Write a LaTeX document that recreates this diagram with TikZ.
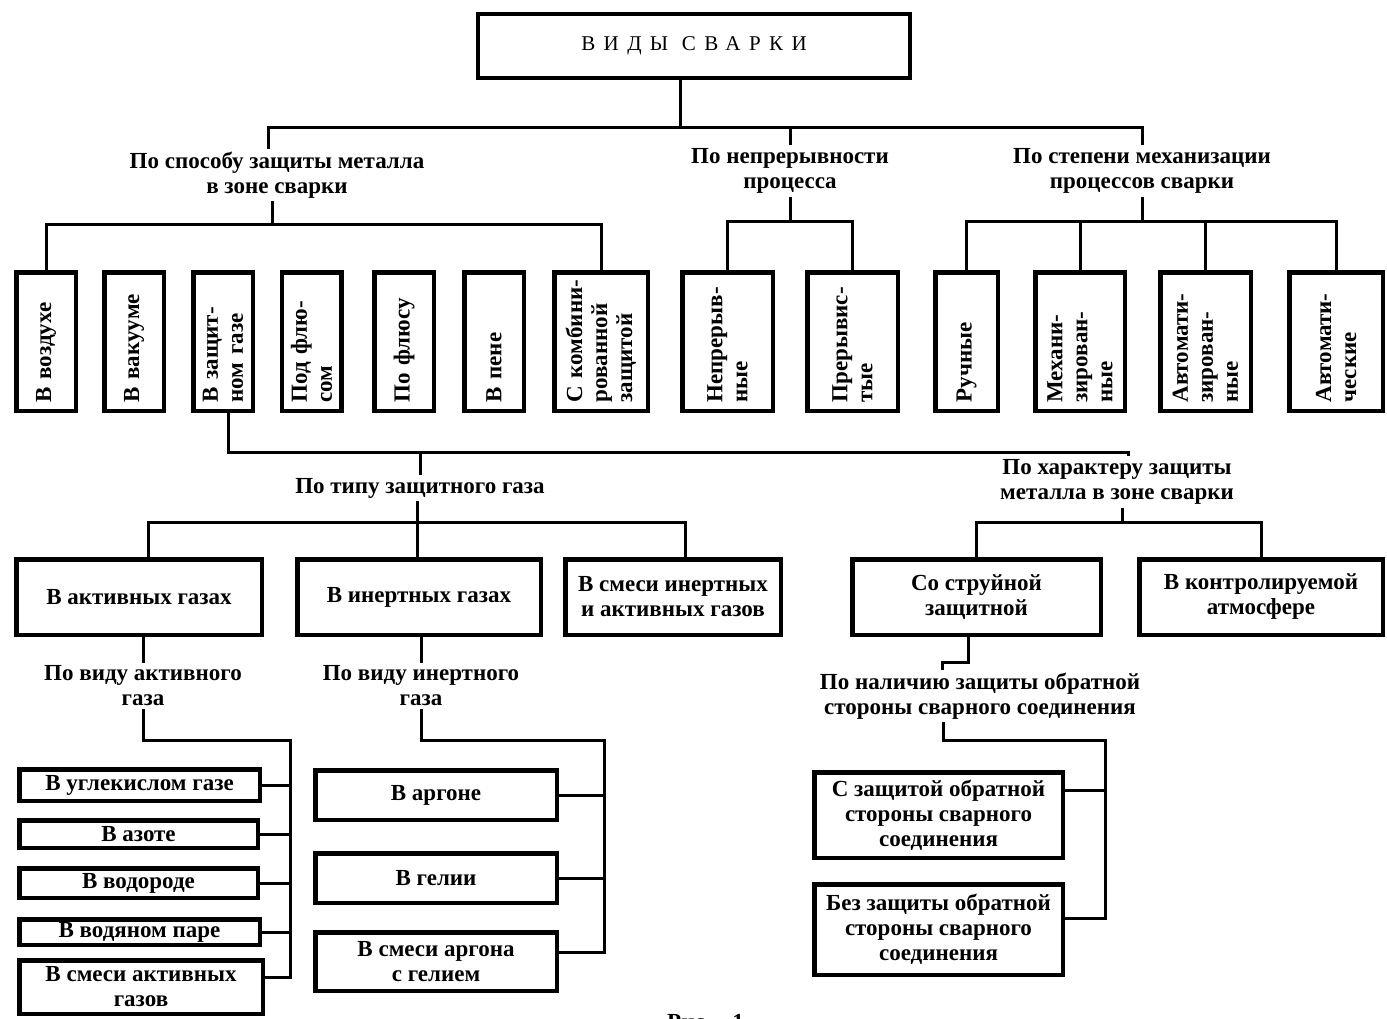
\documentclass[tikz,border=0pt]{standalone}
\usepackage{fontspec}
\setmainfont{Liberation Serif}
\newcommand\lblfont{\fontsize{23}{25}\selectfont\bfseries}
\newcommand\ttlfont{\fontsize{21}{24}\selectfont\addfontfeature{LetterSpace=40}}
\begin{document}
\begin{tikzpicture}[x=1pt,y=-1pt,
  box/.style={draw, line width=4.5pt, inner sep=2pt, font=\lblfont, align=center},
  vbox/.style={box, rotate=90, align=left, minimum width=138.5pt, text width=122pt},
  sbox/.style={box, inner sep=1pt},
  conn/.style={line width=3pt},
  lbl/.style={font=\lblfont, align=center, inner sep=3pt}]
\useasboundingbox (0,0) rectangle (1387,1019);

% title
\node[box, line width=4pt, minimum width=432pt, minimum height=64pt, font=\ttlfont] (title) at (694,46) {ВИДЫ СВАРКИ};

% level 1 labels
\node[lbl] (lA) at (277,175) {По способу защиты металла\\в зоне сварки};
\node[lbl] (lB) at (790,171) {По непрерывности\\процесса};
\node[lbl] (lC) at (1142,171) {По степени механизации\\процессов сварки};

% row 1 boxes (vertical text)
\node[vbox, minimum height=59.5pt] (b1) at (46,341.5) {В воздухе};
\node[vbox, minimum height=59.5pt] (b2) at (134,341.5) {В вакууме};
\node[vbox, minimum height=59.5pt] (b3) at (223,341.5) {В защит-\\ном газе};
\node[vbox, minimum height=59.5pt] (b4) at (311.5,341.5) {Под флю-\\сом};
\node[vbox, minimum height=59.5pt] (b5) at (404,341.5) {По флюсу};
\node[vbox, minimum height=59.5pt] (b6) at (494,341.5) {В пене};
\node[vbox, minimum height=93.5pt] (b7) at (601,341.5) {\mbox{С комбини-}\\рованной\\защитой};
\node[vbox, minimum height=90.5pt] (b8) at (727.5,341.5) {Непрерыв-\\ные};
\node[vbox, minimum height=90.5pt] (b9) at (852.5,341.5) {Прерывис-\\тые};
\node[vbox, minimum height=62.5pt] (b10) at (966.5,341.5) {Ручные};
\node[vbox, minimum height=89.5pt] (b11) at (1080,341.5) {Механи-\\зирован-\\ные};
\node[vbox, minimum height=90.5pt] (b12) at (1205.5,341.5) {Автомати-\\зирован-\\ные};
\node[vbox, minimum height=93.5pt] (b13) at (1336,341.5) {Автомати-\\ческие};

% level 2 labels
\node[lbl] (lGas) at (420,488) {По типу защитного газа};
\node[lbl] (lChar) at (1117,482) {По характеру защиты\\металла в зоне сварки};

% row 3 boxes
\node[box, minimum width=245.5pt, minimum height=75.5pt] (act) at (139,597) {В активных газах};
\node[box, minimum width=243.5pt, minimum height=75.5pt] (inert) at (419,597) {В инертных газах};
\node[box, minimum width=215.5pt, minimum height=75.5pt] (mix) at (673,597) {В смеси инертных\\и активных газов};
\node[box, minimum width=248.5pt, minimum height=75.5pt] (jet) at (976.5,597) {Со струйной\\защитной};
\node[box, minimum width=243.5pt, minimum height=75.5pt] (ctrl) at (1261,597) {В контролируемой\\атмосфере};

% level 3 labels
\node[lbl] (lAct) at (143,686) {По виду активного\\газа};
\node[lbl] (lIn) at (421,686) {По виду инертного\\газа};
\node[lbl] (lBack) at (980,696) {По наличию защиты обратной\\стороны сварного соединения};

% active gases
\node[sbox, minimum width=240.5pt, minimum height=31.5pt] (co2) at (139.5,785) {В углекислом газе};
\node[sbox, minimum width=238.5pt, minimum height=27.5pt] (n2) at (138.5,834) {В азоте};
\node[sbox, minimum width=238.5pt, minimum height=29.5pt] (h2) at (138.5,883) {В водороде};
\node[sbox, minimum width=240.5pt, minimum height=25.5pt] (h2o) at (139.5,932) {В водяном паре};
\node[sbox, minimum width=243.5pt, minimum height=53.5pt] (amix) at (141,987) {В смеси активных\\газов};

% inert gases
\node[box, minimum width=241.5pt, minimum height=49.5pt] (ar) at (436,795) {В аргоне};
\node[box, minimum width=241.5pt, minimum height=49.5pt] (he) at (436,878) {В гелии};
\node[box, minimum width=241.5pt, minimum height=58.5pt] (arhe) at (436,961.5) {В смеси аргона\\с гелием};

% back side protection
\node[box, minimum width=248.5pt, minimum height=85.5pt] (with) at (938.5,815) {С защитой обратной\\стороны сварного\\соединения};
\node[box, minimum width=248.5pt, minimum height=90.5pt] (without) at (938.5,929.5) {Без защиты обратной\\стороны сварного\\соединения};

% figure caption (cut off at the bottom edge, as in the reference)
\node[font=\lblfont, anchor=base west, inner sep=0pt] (fig) at (667,1029) {Рис.\hspace{22pt}1};

% ---------- connectors ----------
\coordinate (J0) at (680,128);
\coordinate (JA) at (268,128);
\draw[conn] (title.south -| J0) -- (J0);
\draw[conn] (lA.north -| JA) -- (JA) -- (lC.north |- JA) -- (lC.north);
\draw[conn] (lB.north) -- (lB.north |- J0);

\coordinate (J1) at (272,225);
\draw[conn] (lA.south -| J1) -- (J1);
\draw[conn] (b1.east) -- (b1.east |- J1) -- (b7.east |- J1) -- (b7.east);

\coordinate (J2) at (790,222);
\draw[conn] (lB.south) -- (lB.south |- J2);
\draw[conn] (b8.east) -- (b8.east |- J2) -- (b9.east |- J2) -- (b9.east);

\coordinate (J3) at (1142,222);
\draw[conn] (lC.south) -- (lC.south |- J3);
\draw[conn] (b10.east) -- (b10.east |- J3) -- (b13.east |- J3) -- (b13.east);
\draw[conn] (b11.east) -- (b11.east |- J3);
\draw[conn] (b12.east) -- (b12.east |- J3);

\coordinate (J4) at (228,452);
\coordinate (J4r) at (1128,452);
\draw[conn] (b3.west -| J4) -- (J4) -- (J4r) -- (lChar.north -| J4r);
\draw[conn] (lGas.north) -- (lGas.north |- J4);

\coordinate (J5) at (417,522);
\coordinate (J5a) at (148,522);
\coordinate (J5c) at (685,522);
\draw[conn] (lGas.south -| J5) -- (J5);
\draw[conn] (act.north -| J5a) -- (J5a) -- (J5c) -- (mix.north -| J5c);
\draw[conn] (inert.north -| J5) -- (J5);

\coordinate (J6) at (1122,522);
\draw[conn] (lChar.south -| J6) -- (J6);
\draw[conn] (jet.north) -- (jet.north |- J6) -- (ctrl.north |- J6) -- (ctrl.north);

\draw[conn] (act.south -| lAct.north) -- (lAct.north);
\draw[conn] (inert.south -| lIn.north) -- (lIn.north);

\coordinate (SA) at (290,740);
\coordinate (SAe) at (290,977);
\draw[conn] (lAct.south) |- (SA) -- (SAe) -- (SAe -| amix.east);
\draw[conn] (co2.east) -- (co2.east -| SA);
\draw[conn] (n2.east) -- (n2.east -| SA);
\draw[conn] (h2.east) -- (h2.east -| SA);
\draw[conn] (h2o.east) -- (h2o.east -| SA);

\coordinate (SI) at (604,740);
\coordinate (SIe) at (604,952);
\draw[conn] (lIn.south) |- (SI) -- (SIe) -- (SIe -| arhe.east);
\draw[conn] (ar.east) -- (ar.east -| SI);
\draw[conn] (he.east) -- (he.east -| SI);

\coordinate (JBa) at (968,662);
\coordinate (JB) at (942,662);
\draw[conn] (jet.south -| JBa) -- (JBa) -- (JB) -- (JB |- lBack.north);
\coordinate (SB) at (943,740);
\coordinate (SBr) at (1105,740);
\coordinate (SBw) at (1105,790);
\coordinate (SBe) at (1105,918);
\draw[conn] (lBack.south -| SB) -- (SB) -- (SBr) -- (SBe) -- (SBe -| without.east);
\draw[conn] (SBw -| with.east) -- (SBw);
\end{tikzpicture}
\end{document}
